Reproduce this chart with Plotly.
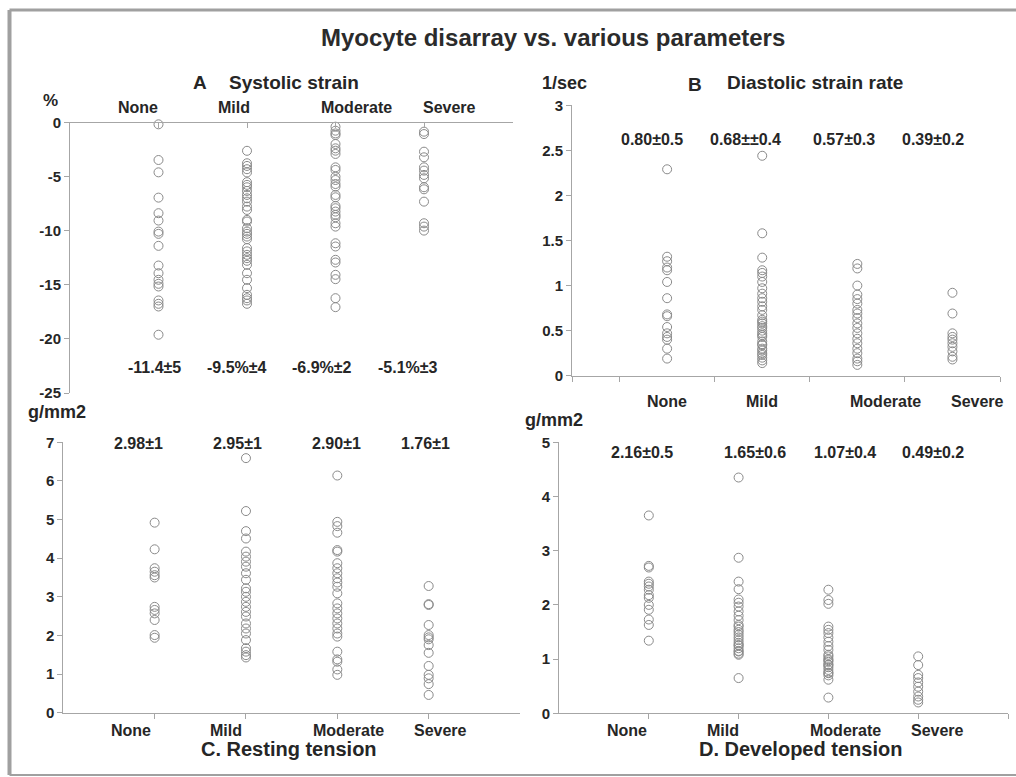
import plotly.graph_objects as go

W, H = 1016, 777

categories = ["None", "Mild", "Moderate", "Severe"]
cat_pos = [1, 2, 3, 4]

# A. Systolic strain (%)
systolic = {
    "None": [-0.15, -3.45, -4.59, -6.93, -8.37, -9.05, -10.07, -10.28, -11.39, -13.21,
             -13.92, -14.53, -14.9, -15.15, -16.44, -16.75, -17.0, -19.61],
    "Mild": [-2.6, -3.75, -4.0, -4.3, -4.6, -5.5, -5.75, -5.97, -6.31, -6.68, -6.99, -7.3,
             -7.76, -8.07, -8.99, -9.14, -9.76, -10.07, -10.28, -10.53, -10.77, -11.6, -11.9,
             -12.22, -12.53, -12.77, -13.14, -13.92, -14.53, -15.3, -15.92, -16.23, -16.44, -16.75],
    "Moderate": [-0.37, -0.74, -0.99, -1.14, -1.97, -2.37, -2.59, -2.89, -4.13, -4.37, -4.99,
                 -5.3, -5.67, -5.91, -6.68, -6.9, -7.7, -7.91, -8.22, -8.53, -8.75, -9.3, -9.61,
                 -11.15, -11.45, -12.68, -12.93, -14.07, -14.47, -16.23, -17.06],
    "Severe": [-0.83, -1.05, -2.68, -3.2, -4.13, -4.43, -4.83, -5.14, -5.97, -6.16, -7.3,
               -9.3, -9.61, -9.98],
}
systolic_stats = ["-11.4±5", "-9.5%±4", "-6.9%±2", "-5.1%±3"]
systolic_ticks = [0, -5, -10, -15, -20, -25]
systolic_ticktext = ["0", "-5", "-10", "-15", "-20", "-25"]

# B. Diastolic strain rate (1/sec)
diastolic = {
    "None": [2.29, 1.32, 1.27, 1.2, 1.17, 1.04, 0.86, 0.68, 0.66, 0.54, 0.47, 0.43, 0.4, 0.3, 0.19],
    "Mild": [2.44, 1.58, 1.31, 1.17, 1.14, 1.10, 1.04, 0.97, 0.91, 0.86, 0.82, 0.77, 0.73, 0.67,
             0.62, 0.6, 0.58, 0.55, 0.53, 0.5, 0.47, 0.45, 0.43, 0.38, 0.35, 0.34, 0.3, 0.28,
             0.25, 0.23, 0.2, 0.17, 0.14],
    "Moderate": [1.24, 1.19, 1.0, 0.9, 0.85, 0.8, 0.73, 0.69, 0.64, 0.58, 0.53, 0.47, 0.41,
                 0.36, 0.30, 0.25, 0.19, 0.16, 0.12],
    "Severe": [0.92, 0.69, 0.47, 0.43, 0.40, 0.36, 0.32, 0.27, 0.21, 0.18],
}
diastolic_stats = ["0.80±0.5", "0.68±±0.4", "0.57±0.3", "0.39±0.2"]
diastolic_ticks = [0, 0.5, 1, 1.5, 2, 2.5, 3]
diastolic_ticktext = ["0", "0.5", "1", "1.5", "2", "2.5", "3"]

# C. Resting tension (g/mm2)
resting = {
    "None": [4.92, 4.23, 3.74, 3.65, 3.56, 3.50, 2.74, 2.66, 2.57, 2.40, 2.01, 1.94],
    "Mild": [6.59, 5.22, 4.70, 4.51, 4.17, 4.04, 3.91, 3.78, 3.61, 3.44, 3.22, 3.13, 3.0,
             2.87, 2.74, 2.61, 2.49, 2.31, 2.18, 2.05, 1.88, 1.67, 1.58, 1.49, 1.43],
    "Moderate": [6.14, 4.94, 4.83, 4.66, 4.21, 4.17, 3.87, 3.74, 3.61, 3.48, 3.37, 3.26, 3.09,
                 2.83, 2.70, 2.57, 2.44, 2.31, 2.18, 2.05, 1.97, 1.58, 1.38, 1.32, 1.12, 0.98],
    "Severe": [3.28, 2.81, 2.79, 2.27, 2.01, 1.95, 1.90, 1.75, 1.55, 1.21, 0.98, 0.89, 0.74, 0.46],
}
resting_stats = ["2.98±1", "2.95±1", "2.90±1", "1.76±1"]

# D. Developed tension (g/mm2)
developed = {
    "None": [3.65, 2.72, 2.69, 2.43, 2.39, 2.34, 2.28, 2.18, 2.13, 2.0, 1.91, 1.73, 1.63, 1.34],
    "Mild": [4.35, 2.87, 2.43, 2.29, 2.10, 2.04, 1.97, 1.88, 1.80, 1.72, 1.63, 1.6, 1.54, 1.5,
             1.45, 1.4, 1.35, 1.3, 1.26, 1.25, 1.20, 1.15, 1.14, 1.1, 1.08, 0.65],
    "Moderate": [2.28, 2.09, 2.02, 1.60, 1.54, 1.48, 1.40, 1.32, 1.24, 1.17, 1.08, 1.05, 1.0,
                 0.98, 0.95, 0.9, 0.89, 0.85, 0.80, 0.75, 0.74, 0.7, 0.62, 0.29],
    "Severe": [1.05, 0.89, 0.71, 0.65, 0.57, 0.49, 0.40, 0.31, 0.25, 0.20],
}
developed_stats = ["2.16±0.5", "1.65±0.6", "1.07±0.4", "0.49±0.2"]

FONT = "Liberation Sans, Arial, sans-serif"
TXT = "#262626"
AXC = "#a6a6a6"
MARK = "#8a8a8a"


def px(x, y):
    return x / W, 1 - y / H


fig = go.Figure()

panels = [(systolic, "x", "y"), (diastolic, "x2", "y2"), (resting, "x3", "y3"), (developed, "x4", "y4")]
for data, xa, ya in panels:
    xs, ys = [], []
    for c, p in zip(categories, cat_pos):
        xs += [p] * len(data[c])
        ys += data[c]
    fig.add_trace(go.Scatter(
        x=xs, y=ys, xaxis=xa, yaxis=ya, mode="markers", showlegend=False,
        cliponaxis=False, hoverinfo="skip",
        marker=dict(symbol="circle-open", size=9, color=MARK, line=dict(width=1, color=MARK)),
    ))

tickfont = dict(family=FONT, size=15, color=TXT, weight="bold")
common_x = dict(showline=True, linecolor=AXC, linewidth=1, showgrid=False, zeroline=False,
                showticklabels=False, tickcolor=AXC, ticklen=5, tickwidth=1, automargin=False)
common_y = dict(showline=True, linecolor=AXC, linewidth=1, showgrid=False, zeroline=False,
                ticks="outside", tickcolor=AXC, ticklen=5, tickwidth=1, tickfont=tickfont,
                automargin=False)


def dom_x(a, b):
    return [a / W, b / W]


def dom_y(top, bottom):
    return [1 - bottom / H, 1 - top / H]


fig.update_layout(
    template="none",
    width=W, height=H, autosize=False,
    margin=dict(l=0, r=0, t=0, b=0, pad=0, autoexpand=False),
    paper_bgcolor="white", plot_bgcolor="white",
    xaxis=dict(domain=dom_x(70, 512.5), range=[0, 5], anchor="y", side="top", ticks="inside",
               tickvals=[1, 2, 3, 4, 5], **common_x),
    yaxis=dict(domain=dom_y(122.7, 393), range=[-25, 0], anchor="x",
               tickvals=systolic_ticks, ticktext=systolic_ticktext, **common_y),
    xaxis2=dict(domain=dom_x(572, 1000), range=[0, 4.5], anchor="y2", ticks="outside",
                tickvals=[0, 0.5, 1.5, 2.5, 3.5, 4.5], **common_x),
    yaxis2=dict(domain=dom_y(105.3, 375.7), range=[0, 3], anchor="x2",
                tickvals=diastolic_ticks, ticktext=diastolic_ticktext, **common_y),
    xaxis3=dict(domain=dom_x(63.3, 520), range=[0, 5], anchor="y3", ticks="outside",
                tickvals=[1, 2, 3, 4], **common_x),
    yaxis3=dict(domain=dom_y(442.3, 712.7), range=[0, 7], anchor="x3",
                tickvals=list(range(0, 8)), **common_y),
    xaxis4=dict(domain=dom_x(559, 1008), range=[0, 5], anchor="y4", ticks="outside",
                tickvals=[1, 2, 3, 4, 5], **common_x),
    yaxis4=dict(domain=dom_y(442.3, 713.3), range=[0, 5], anchor="x4",
                tickvals=list(range(0, 6)), **common_y),
)

# frame (open on the right, as in the original crop)
fig.add_shape(type="line", xref="paper", yref="paper", x0=9.5 / W, x1=1.0,
              y0=1 - 10 / H, y1=1 - 10 / H, line=dict(color="#a0a0a0", width=3))
fig.add_shape(type="line", xref="paper", yref="paper", x0=9.5 / W, x1=1.0,
              y0=1 - 775 / H, y1=1 - 775 / H, line=dict(color="#a0a0a0", width=2))
fig.add_shape(type="line", xref="paper", yref="paper", x0=9.5 / W, x1=9.5 / W,
              y0=1 - 775 / H, y1=1 - 10 / H, line=dict(color="#a0a0a0", width=4))


def label(x, y, text, size, color=TXT, bold=True):
    xx, yy = px(x, y)
    fig.add_annotation(x=xx, y=yy, xref="paper", yref="paper", text=text, showarrow=False,
                       xanchor="center", yanchor="middle",
                       font=dict(family=FONT, size=size, color=color,
                                 weight="bold" if bold else "normal"))


label(553, 37, "Myocyte disarray vs. various parameters", 24, color="#2b2b2b")

# Panel A
label(200, 83, "A", 19)
label(294, 83, "Systolic strain", 19)
label(50, 100, "%", 17)
for cx, c in zip([138, 234, 356, 449], categories):
    label(cx, 107, c, 16)
for cx, s in zip([154, 237, 322, 408], systolic_stats):
    label(cx, 367, s, 16)

# Panel B
label(564, 83, "1/sec", 18)
label(695, 84, "B", 19)
label(815, 83, "Diastolic strain rate", 19)
for cx, s in zip([652, 745, 844, 933], diastolic_stats):
    label(cx, 140, s, 16)
for cx, c in zip([667, 762, 885, 977], categories):
    label(cx, 401, c, 16)

# Panel C
label(57, 412, "g/mm2", 18)
for cx, s in zip([138, 237, 336, 425], resting_stats):
    label(cx, 443, s, 16)
for cx, c in zip([131, 226, 348, 440], categories):
    label(cx, 730, c, 16)
label(289, 749, "C. Resting tension", 20)

# Panel D
label(554, 420, "g/mm2", 18)
for cx, s in zip([642, 755, 845, 933], developed_stats):
    label(cx, 452, s, 16)
for cx, c in zip([627, 723, 845, 937], categories):
    label(cx, 730, c, 16)
label(800, 749, "D. Developed tension", 20)

fig.write_html(
    "out.html",
    config={"displayModeBar": False},
    post_script=(
        "document.body.style.margin='0';"
        "document.documentElement.style.overflow='hidden';"
        "document.body.style.overflow='hidden';"
    ),
)
